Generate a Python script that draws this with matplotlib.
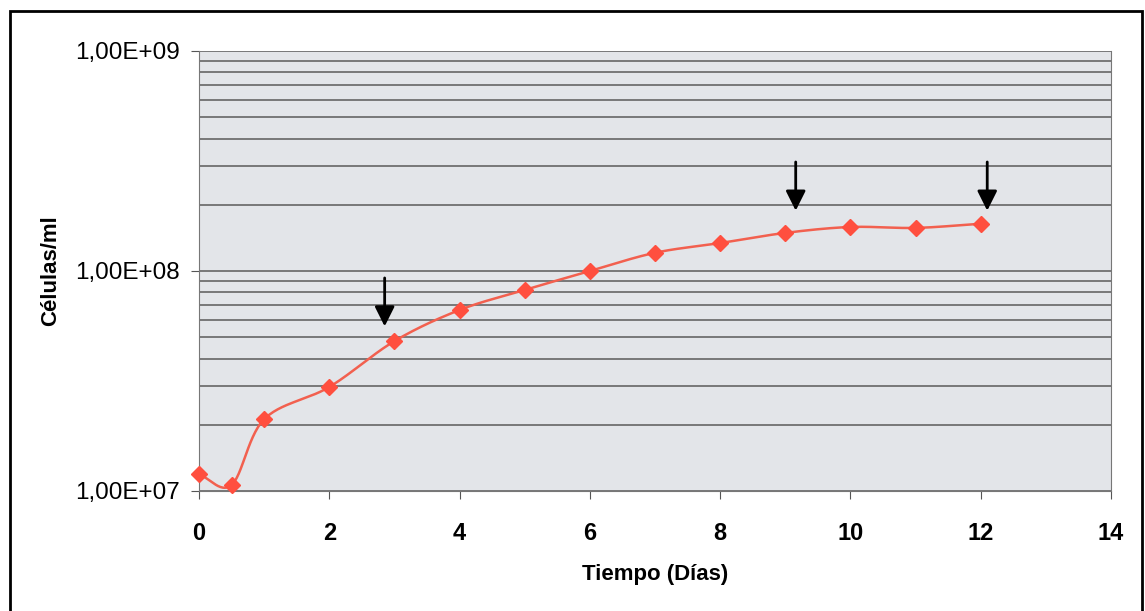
import numpy as np
import matplotlib
matplotlib.use("Agg")
import matplotlib.pyplot as plt
from matplotlib.patches import Rectangle
from matplotlib.ticker import FixedLocator, NullFormatter

plt.rcParams['font.family'] = ['Liberation Sans', 'DejaVu Sans']

# data
dias = [0, 0.5, 1, 2, 3, 4, 5, 6, 7, 8, 9, 10, 11, 12]
celulas = [1.19e7, 1.065e7, 2.12e7, 2.97e7, 4.8e7, 6.65e7, 8.2e7,
           1.0e8, 1.21e8, 1.34e8, 1.49e8, 1.585e8, 1.57e8, 1.64e8]
flechas_x = [2.85, 9.16, 12.1]
flechas_y0 = [9.3e7, 3.13e8, 3.13e8]
flechas_y1 = [5.6e7, 1.88e8, 1.88e8]
ytick_vals = [1e7, 1e8, 1e9]
ytick_labels = ["1,00E+07", "1,00E+08", "1,00E+09"]
xtick_vals = list(range(0, 15, 2))


def suavizar(x, y, n=30):
    # Catmull-Rom curve through the points (in x, log y), like Excel smoothed lines
    x = np.asarray(x, float)
    y = np.log10(np.asarray(y, float))
    px = np.concatenate([[2 * x[0] - x[1]], x, [2 * x[-1] - x[-2]]])
    py = np.concatenate([[2 * y[0] - y[1]], y, [2 * y[-1] - y[-2]]])
    xs, ys = [], []
    t = np.linspace(0, 1, n)
    for i in range(1, len(px) - 2):
        for p, out in ((px, xs), (py, ys)):
            p0, p1, p2, p3 = p[i - 1], p[i], p[i + 1], p[i + 2]
            out.extend(0.5 * ((2 * p1) + (-p0 + p2) * t +
                              (2 * p0 - 5 * p1 + 4 * p2 - p3) * t ** 2 +
                              (-p0 + 3 * p1 - 3 * p2 + p3) * t ** 3))
    return np.array(xs), 10 ** np.array(ys)


fig = plt.figure(figsize=(11.45, 6.11), dpi=100)
fig.patches.append(Rectangle((10 / 1145, -0.01), 1132 / 1145, 1 - 11 / 611 + 0.01,
                             transform=fig.transFigure, fill=False,
                             edgecolor='black', linewidth=2))
ax = fig.add_axes([199 / 1145, 120 / 611, 912 / 1145, 440 / 611])
ax.set_facecolor('#e3e5e9')
ax.set_yscale('log')
ax.set_xlim(0, 14)
ax.set_ylim(1e7, 1e9)

sx, sy = suavizar(dias, celulas)
ax.plot(sx, sy, color='#f2604f', linewidth=1.8, zorder=3)
ax.plot(dias, celulas, linestyle='none', marker='D', markersize=8,
        color='#ff4f3f', zorder=4, clip_on=False)

for xa, y0, y1 in zip(flechas_x, flechas_y0, flechas_y1):
    ax.annotate('', xy=(xa, y1), xytext=(xa, y0),
                arrowprops=dict(arrowstyle='-|>,head_length=1.2,head_width=0.6',
                                color='black', linewidth=2, shrinkA=0, shrinkB=0),
                zorder=5)

ax.yaxis.set_major_locator(FixedLocator(ytick_vals))
ax.set_yticklabels(ytick_labels)
minors = [m * 10 ** e for e in (7, 8) for m in range(2, 10)]
ax.yaxis.set_minor_locator(FixedLocator(minors))
ax.yaxis.set_minor_formatter(NullFormatter())
ax.tick_params(axis='y', which='minor', length=0)
ax.tick_params(axis='y', which='major', length=6, color='#555555',
               labelsize=17.5, pad=8)
ax.set_xticks(xtick_vals)
ax.tick_params(axis='x', length=6, color='#555555', labelsize=17, pad=16)
for lbl in ax.get_xticklabels():
    lbl.set_fontweight('bold')

ax.grid(True, axis='y', which='both', color='#5a5a5a', linewidth=1.1)
ax.set_axisbelow(True)
for side in ('left', 'bottom', 'right'):
    ax.spines[side].set_color('#777777')
ax.spines['top'].set_visible(False)

ax.set_xlabel('Tiempo (Días)', fontsize=16, fontweight='bold', labelpad=14)
ax.set_ylabel('Células/ml', fontsize=16, fontweight='bold', labelpad=10)

fig.savefig('out.png', dpi=100)
